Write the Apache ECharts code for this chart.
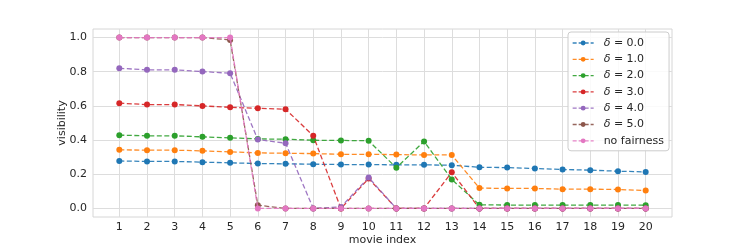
<!DOCTYPE html>
<html><head><meta charset="utf-8">
<script src="https://cdn.jsdelivr.net/npm/echarts@6/dist/echarts.min.js"></script>
<style>html,body{margin:0;padding:0;background:#fff}#c{width:747px;height:249px}</style>
</head><body><div id="c"></div>
<script>
const movieIndex = [1,2,3,4,5,6,7,8,9,10,11,12,13,14,15,16,17,18,19,20];
const yTicks = [0.0,0.2,0.4,0.6,0.8,1.0];
const seriesNames = ['δ = 0.0','δ = 1.0','δ = 2.0','δ = 3.0','δ = 4.0','δ = 5.0','no fairness'];
const delta0 = [0.278,0.275,0.275,0.271,0.267,0.263,0.261,0.259,0.257,0.257,0.255,0.255,0.253,0.241,0.239,0.234,0.228,0.224,0.218,0.214];
const delta1 = [0.343,0.341,0.341,0.337,0.331,0.325,0.323,0.321,0.317,0.317,0.315,0.313,0.313,0.119,0.117,0.117,0.113,0.113,0.111,0.105];
const delta2 = [0.429,0.425,0.425,0.419,0.413,0.407,0.405,0.399,0.398,0.396,0.238,0.392,0.170,0.021,0.020,0.020,0.020,0.020,0.020,0.019];
const delta3 = [0.616,0.608,0.608,0.600,0.592,0.586,0.581,0.425,0.0,0.175,0.0,0.0,0.212,0.0,0.0,0.0,0.0,0.0,0.0,0.0];
const delta4 = [0.820,0.811,0.811,0.801,0.791,0.403,0.382,0.0,0.009,0.181,0.0,0.0,0.0,0.0,0.0,0.0,0.0,0.0,0.0,0.0];
const delta5 = [1.0,1.0,1.0,1.0,0.986,0.019,0.0,0.0,0.0,0.0,0.0,0.0,0.0,0.0,0.0,0.0,0.0,0.0,0.0,0.0];
const noFair = [1.0,1.0,1.0,1.0,1.0,0.0,0.0,0.0,0.0,0.0,0.0,0.0,0.0,0.0,0.0,0.0,0.0,0.0,0.0,0.0];
const allValues = [delta0,delta1,delta2,delta3,delta4,delta5,noFair];
const colors = ['#1f77b4','#ff7f0e','#2ca02c','#d62728','#9467bd','#8c564b','#e377c2'];

const FONT = 'DejaVu Sans';
const FS = 11;
const chart = echarts.init(document.getElementById('c'), null, {renderer:'canvas'});
const series = allValues.map((vals, k) => ({
  name: seriesNames[k],
  type: 'line',
  data: vals.map((v, i) => [movieIndex[i], v]),
  symbol: 'circle',
  symbolSize: 6,
  showSymbol: true,
  itemStyle: {color: colors[k]},
  lineStyle: {color: colors[k], width: 1.3, type: [5, 2.5], opacity: 0.9},
  z: 2 + k,
  animation: false
}));
chart.setOption({
  animation: false,
  color: colors,
  grid: {left: 93, right: 75, top: 29, bottom: 32, show: true, borderColor: '#d6d6d6', borderWidth: 1,
    outerBoundsMode: 'none', containLabel: false},
  xAxis: {
    type: 'value', min: 0.05, max: 20.95,
    name: 'movie index', nameLocation: 'middle', nameGap: 18, nameMoveOverlap: false,
    nameTextStyle: {fontFamily: FONT, fontSize: FS, color: '#262626'},
    axisLine: {show: false}, axisTick: {show: false, customValues: movieIndex},
    axisLabel: {customValues: movieIndex, fontFamily: FONT, fontSize: FS, color: '#262626', margin: 5},
    splitLine: {show: true, lineStyle: {color: '#dddddd', width: 1}}
  },
  yAxis: {
    type: 'value', min: -0.05, max: 1.05,
    name: 'visibility', nameLocation: 'middle', nameGap: 25, nameMoveOverlap: false,
    nameTextStyle: {fontFamily: FONT, fontSize: FS, color: '#262626'},
    axisLine: {show: false}, axisTick: {show: false, customValues: yTicks},
    axisLabel: {customValues: yTicks, fontFamily: FONT, fontSize: FS, color: '#262626', margin: 6,
      formatter: v => v.toFixed(1)},
    splitLine: {show: true, lineStyle: {color: '#dddddd', width: 1}}
  },
  legend: {
    orient: 'vertical', left: 568, top: 32,
    padding: [5, 5, 4, 4], itemGap: 4.3, itemWidth: 21, itemHeight: 6,
    backgroundColor: 'rgba(255,255,255,0.85)', borderColor: '#cccccc', borderWidth: 1, borderRadius: 3,
    lineStyle: {type: [4, 2], width: 1.3},
    data: seriesNames,
    formatter: n => n.startsWith('δ') ? '{i|δ}' + n.slice(1) : n,
    textStyle: {fontFamily: FONT, fontSize: FS, lineHeight: 12, color: '#262626', padding: [0,0,0,5],
      rich: {i: {fontFamily: FONT, fontStyle: 'italic', fontSize: FS, lineHeight: 12, color: '#262626'}}}
  },
  series: series
});
</script></body></html>
